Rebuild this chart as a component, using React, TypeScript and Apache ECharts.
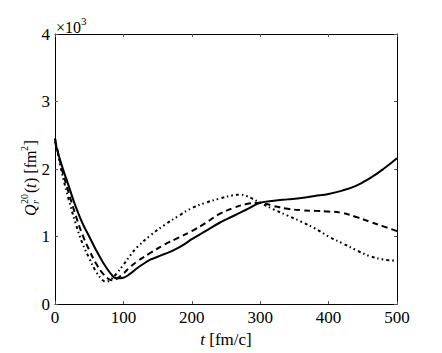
import React, { useEffect, useRef } from "react";
import * as echarts from "echarts";

const solidT = [0, 10, 20, 30, 40, 50, 60, 70, 80, 90, 100, 110, 120, 130, 140, 150, 160, 170, 180, 190, 200, 220, 240, 260, 280, 300, 320, 340, 360, 380, 400, 420, 440, 460, 480, 500];
const solidV = [2.4, 2.05, 1.75, 1.45, 1.2, 1.0, 0.8, 0.62, 0.47, 0.38, 0.39, 0.45, 0.53, 0.6, 0.66, 0.7, 0.74, 0.78, 0.83, 0.89, 0.96, 1.08, 1.2, 1.3, 1.4, 1.5, 1.53, 1.55, 1.57, 1.6, 1.63, 1.68, 1.75, 1.86, 2.0, 2.16];

const dashT = [0, 10, 20, 30, 40, 50, 60, 70, 80, 85, 90, 100, 110, 120, 140, 160, 180, 200, 220, 240, 260, 280, 300, 320, 340, 360, 380, 400, 420, 440, 460, 480, 500];
const dashV = [2.45, 2.0, 1.65, 1.32, 1.03, 0.8, 0.6, 0.45, 0.36, 0.35, 0.37, 0.45, 0.55, 0.63, 0.76, 0.88, 0.98, 1.08, 1.2, 1.33, 1.42, 1.48, 1.5, 1.45, 1.41, 1.39, 1.38, 1.37, 1.35, 1.29, 1.22, 1.15, 1.08];

const dotT = [0, 10, 20, 30, 40, 50, 60, 70, 75, 80, 90, 100, 110, 120, 140, 160, 180, 200, 220, 240, 260, 270, 280, 300, 320, 340, 360, 380, 400, 420, 440, 460, 480, 500];
const dotV = [2.45, 1.95, 1.55, 1.2, 0.9, 0.68, 0.48, 0.35, 0.33, 0.35, 0.45, 0.58, 0.72, 0.84, 1.02, 1.17, 1.3, 1.42, 1.5, 1.56, 1.61, 1.62, 1.6, 1.5, 1.4, 1.31, 1.22, 1.12, 1.0, 0.9, 0.8, 0.71, 0.66, 0.64];

const xTicks = [0, 100, 200, 300, 400, 500];
const yTicks = [0, 1, 2, 3, 4];

const FONT = "'Liberation Serif', 'DejaVu Serif', serif";

function pairs(t: number[], v: number[]) {
  return t.map((x, i) => [x, v[i]]);
}

export default function App() {
  const ref = useRef<HTMLDivElement>(null);
  useEffect(() => {
    if (!ref.current) return;
    const chart = echarts.init(ref.current, null, { renderer: "svg" });
    const axisCommon = {
      axisLine: { show: true, onZero: false, lineStyle: { color: "#000", width: 1 } },
      axisTick: { show: true, inside: true, length: 3, lineStyle: { color: "#555" } },
      splitLine: { show: false },
    };
    const labelStyle = { color: "#000", fontFamily: FONT, fontSize: 17 };
    const mkText = (x: number, y: number, text: string, size: number, italic = false) => ({
      type: "text",
      x,
      y,
      style: {
        text,
        fontFamily: FONT,
        fontSize: size,
        fontStyle: italic ? "italic" : "normal",
        fill: "#000",
        verticalAlign: "middle",
        align: "left",
      },
    });
    chart.setOption({
      animation: false,
      backgroundColor: "#fff",
      grid: { left: 55, top: 34, right: 45, bottom: 36, containLabel: false },
      xAxis: [
        {
          type: "value",
          min: 0,
          max: 500,
          interval: 100,
          position: "bottom",
          ...axisCommon,
          axisLabel: { ...labelStyle, margin: 5, formatter: (v: number) => (xTicks.includes(v) ? String(v) : "") },
          name: "{i|t} [fm/c]",
          nameLocation: "middle",
          nameGap: 27,
          nameTextStyle: {
            ...labelStyle,
            rich: {
              i: { fontFamily: FONT, fontSize: 17, fontStyle: "italic", color: "#000" },
            },
          },
        },
        {
          type: "value",
          min: 0,
          max: 500,
          interval: 100,
          position: "top",
          ...axisCommon,
          axisLabel: { show: false },
        },
      ],
      yAxis: [
        {
          type: "value",
          min: 0,
          max: 4,
          interval: 1,
          position: "left",
          ...axisCommon,
          axisLabel: { ...labelStyle, margin: 5, formatter: (v: number) => (yTicks.includes(v) ? String(v) : "") },
        },
        {
          type: "value",
          min: 0,
          max: 4,
          interval: 1,
          position: "right",
          ...axisCommon,
          axisLabel: { show: false },
        },
      ],
      graphic: [
        mkText(56, 27, "×10", 16),
        mkText(81, 21, "3", 11),
        {
          type: "group",
          x: 30,
          y: 176,
          rotation: Math.PI / 2,
          children: [
            mkText(-40, 0, "Q", 16, true),
            mkText(-28, -6, "20", 10),
            mkText(-28, 5, "r", 10, true),
            mkText(-17, 0, "(", 16),
            mkText(-12, 0, "t", 16, true),
            mkText(-7, 0, ") [fm", 16),
            mkText(25, -6, "2", 10),
            mkText(30.5, 0, "]", 16),
          ],
        },
      ],
      series: [
        {
          type: "line",
          data: pairs(solidT, solidV),
          smooth: 0.4,
          symbol: "none",
          lineStyle: { color: "#000", width: 2, type: "solid" },
        },
        {
          type: "line",
          data: pairs(dashT, dashV),
          smooth: 0.4,
          symbol: "none",
          lineStyle: { color: "#000", width: 2, type: [6, 4] },
        },
        {
          type: "line",
          data: pairs(dotT, dotV),
          smooth: 0.4,
          symbol: "none",
          lineStyle: { color: "#000", width: 2, type: [3, 3, 1.5, 3, 1.5, 3] },
        },
      ],
    });
    return () => chart.dispose();
  }, []);
  return <div ref={ref} style={{ width: 442, height: 353, position: "absolute", left: 0, top: 0 }} />;
}
